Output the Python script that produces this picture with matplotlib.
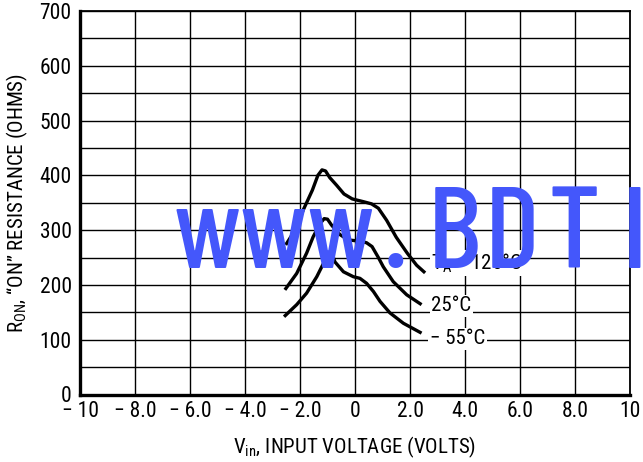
import matplotlib
matplotlib.use("Agg")
import matplotlib.pyplot as plt
from matplotlib import font_manager as fm

# ---------------- data ----------------
x_125 = [-2.52, -2.18, -1.88, -1.55, -1.35, -1.2, -1.07, -0.92, -0.67, -0.4, -0.1, 0.3, 0.6, 0.85, 1.15, 1.5, 1.9, 2.24, 2.55]
y_125 = [273, 300, 337, 373, 400, 410, 408, 396, 382, 366, 357, 352, 348, 340, 318, 287, 258, 236, 222]

x_25 = [-2.55, -2.12, -1.76, -1.52, -1.27, -1.12, -1.0, -0.85, -0.55, -0.24, 0.18, 0.42, 0.62, 0.85, 1.03, 1.39, 1.88, 2.42]
y_25 = [191, 221, 258, 288, 312, 321, 320, 309, 292, 282, 280, 277, 270, 250, 233, 206, 182, 164]

x_m55 = [-2.58, -2.12, -1.76, -1.39, -1.09, -0.92, -0.82, -0.73, -0.42, -0.06, 0.18, 0.42, 0.67, 0.91, 1.27, 1.76, 2.42]
y_m55 = [142, 164, 185, 215, 245, 258, 255, 242, 224, 215, 212, 203, 188, 170, 149, 130, 112]

curve_labels = [r"T$_{\mathregular{A}}$ = 125°C", "25°C", "\u2212 55°C"]
label_pos = [(2.78, 240), (2.78, 162), (2.72, 102)]

x_ticks = [-10, -8, -6, -4, -2, 0, 2, 4, 6, 8, 10]
x_ticklabels = ["\u2212 10", "\u2212 8.0", "\u2212 6.0", "\u2212 4.0", "\u2212 2.0", "0", "2.0", "4.0", "6.0", "8.0", "10"]
y_ticks = [0, 100, 200, 300, 400, 500, 600, 700]
y_ticklabels = ["0", "100", "200", "300", "400", "500", "600", "700"]

x_title = r"V$_{\mathregular{in}}$, INPUT VOLTAGE (VOLTS)"
y_title = r"R$_{\mathregular{ON}}$, “ON” RESISTANCE (OHMS)"
watermark_parts = ["www", ".", "B", "D", "T", "I"]

# ---------------- fonts ----------------
names = {f.name for f in fm.fontManager.ttflist}
prefs = ["Nimbus Sans Narrow", "Liberation Sans Narrow", "Arial Narrow", "Roboto Condensed",
         "Archivo Narrow", "PT Sans Narrow", "Pragati Narrow", "Liberation Sans"]
narrow = next((p for p in prefs if p in names), "DejaVu Sans")
wm_prefs = ["Barlow Condensed", "Roboto Condensed", narrow]
wm_font = next((p for p in wm_prefs if p in names), narrow)
wm_size = 84 if wm_font == "Barlow Condensed" else 80
plt.rcParams["font.family"] = [narrow, "DejaVu Sans"]
plt.rcParams["mathtext.fontset"] = "custom"
plt.rcParams["mathtext.rm"] = narrow

W, H = 643, 462
fig = plt.figure(figsize=(W / 100, H / 100), dpi=100)
ax = fig.add_axes([80 / W, 1 - 394.5 / H, 550 / W, 383.5 / H])

ax.set_xlim(-10, 10)
ax.set_ylim(0, 700)
ax.set_xticks(x_ticks)
ax.set_xticklabels(x_ticklabels)
ax.set_yticks(y_ticks)
ax.set_yticklabels(y_ticklabels)
ax.set_yticks(range(50, 700, 100), minor=True)
ax.tick_params(axis="both", which="both", length=0, labelsize=15.5, colors="black")
ax.tick_params(axis="x", pad=5)
ax.tick_params(axis="y", pad=6)
ax.grid(True, which="both", color="black", linewidth=1.0)
ax.set_axisbelow(True)

for s in ["left", "bottom"]:
    ax.spines[s].set_linewidth(2.4)
for s in ["top", "right"]:
    ax.spines[s].set_linewidth(1.3)

for xs, ys in [(x_125, y_125), (x_25, y_25), (x_m55, y_m55)]:
    ax.plot(xs, ys, color="black", linewidth=2.4, solid_joinstyle="round", solid_capstyle="butt", zorder=3)

for lab, (lx, ly) in zip(curve_labels, label_pos):
    ax.text(lx, ly, lab, fontsize=15, ha="left", va="center", zorder=4,
            bbox=dict(facecolor="white", edgecolor="none", pad=1.0))

ax.set_xlabel(x_title, fontsize=15, labelpad=9)
ax.set_ylabel(y_title, fontsize=15, labelpad=7)

for part, cx in zip(watermark_parts, [274, 395, 454, 512, 574, 635]):
    fig.text(cx / W, 1 - 268 / H, part, fontsize=wm_size, color="#4457fb", fontweight="medium",
             family=[wm_font, "DejaVu Sans"], ha="center", va="baseline", zorder=10)

fig.savefig("out.png", dpi=100)
